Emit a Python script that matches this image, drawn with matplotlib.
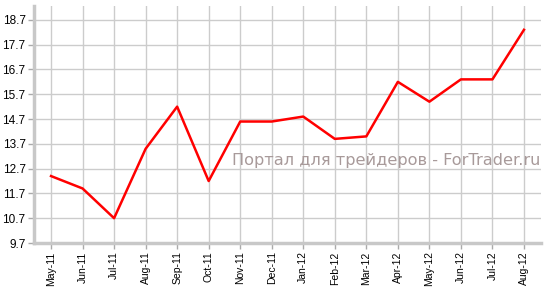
import matplotlib
matplotlib.use("Agg")
import matplotlib.pyplot as plt

months = ["May-11", "Jun-11", "Jul-11", "Aug-11", "Sep-11", "Oct-11", "Nov-11", "Dec-11",
          "Jan-12", "Feb-12", "Mar-12", "Apr-12", "May-12", "Jun-12", "Jul-12", "Aug-12"]
values = [12.4, 11.9, 10.7, 13.5, 15.2, 12.2, 14.6, 14.6,
          14.8, 13.9, 14.0, 16.2, 15.4, 16.3, 16.3, 18.3]
yticks = [9.7, 10.7, 11.7, 12.7, 13.7, 14.7, 15.7, 16.7, 17.7, 18.7]

fig = plt.figure(figsize=(5.51, 2.96), dpi=100)
ax = fig.add_axes([34/551, 53/296, 507/551, 237/296])

x = list(range(len(months)))
ax.plot(x, values, color="#ff0000", lw=1.8, zorder=3)

ax.set_xlim(-0.54, len(months) - 0.46)
ax.set_ylim(9.7, 19.26)
ax.set_xticks(x)
ax.set_xticklabels(months, rotation=90, fontsize=7.5, family="Liberation Sans")
ax.set_yticks(yticks)
ax.set_yticklabels(["%.1f" % v for v in yticks], fontsize=8.5, family="Liberation Sans")

ax.grid(True, color="#cccccc", lw=1)
for s in ["top", "right"]:
    ax.spines[s].set_visible(False)
for s in ["left", "bottom"]:
    ax.spines[s].set_color("#c8c8c8")
    ax.spines[s].set_linewidth(2.5)
ax.tick_params(axis="both", length=4, width=1, color="#aaaaaa", pad=2)

ax.text(0.999, 0.35, "Портал для трейдеров - ForTrader.ru", transform=ax.transAxes,
        ha="right", va="center", fontsize=11.6, color="#a89a9a", family="DejaVu Sans", zorder=2)

fig.savefig("out.png", dpi=100)
